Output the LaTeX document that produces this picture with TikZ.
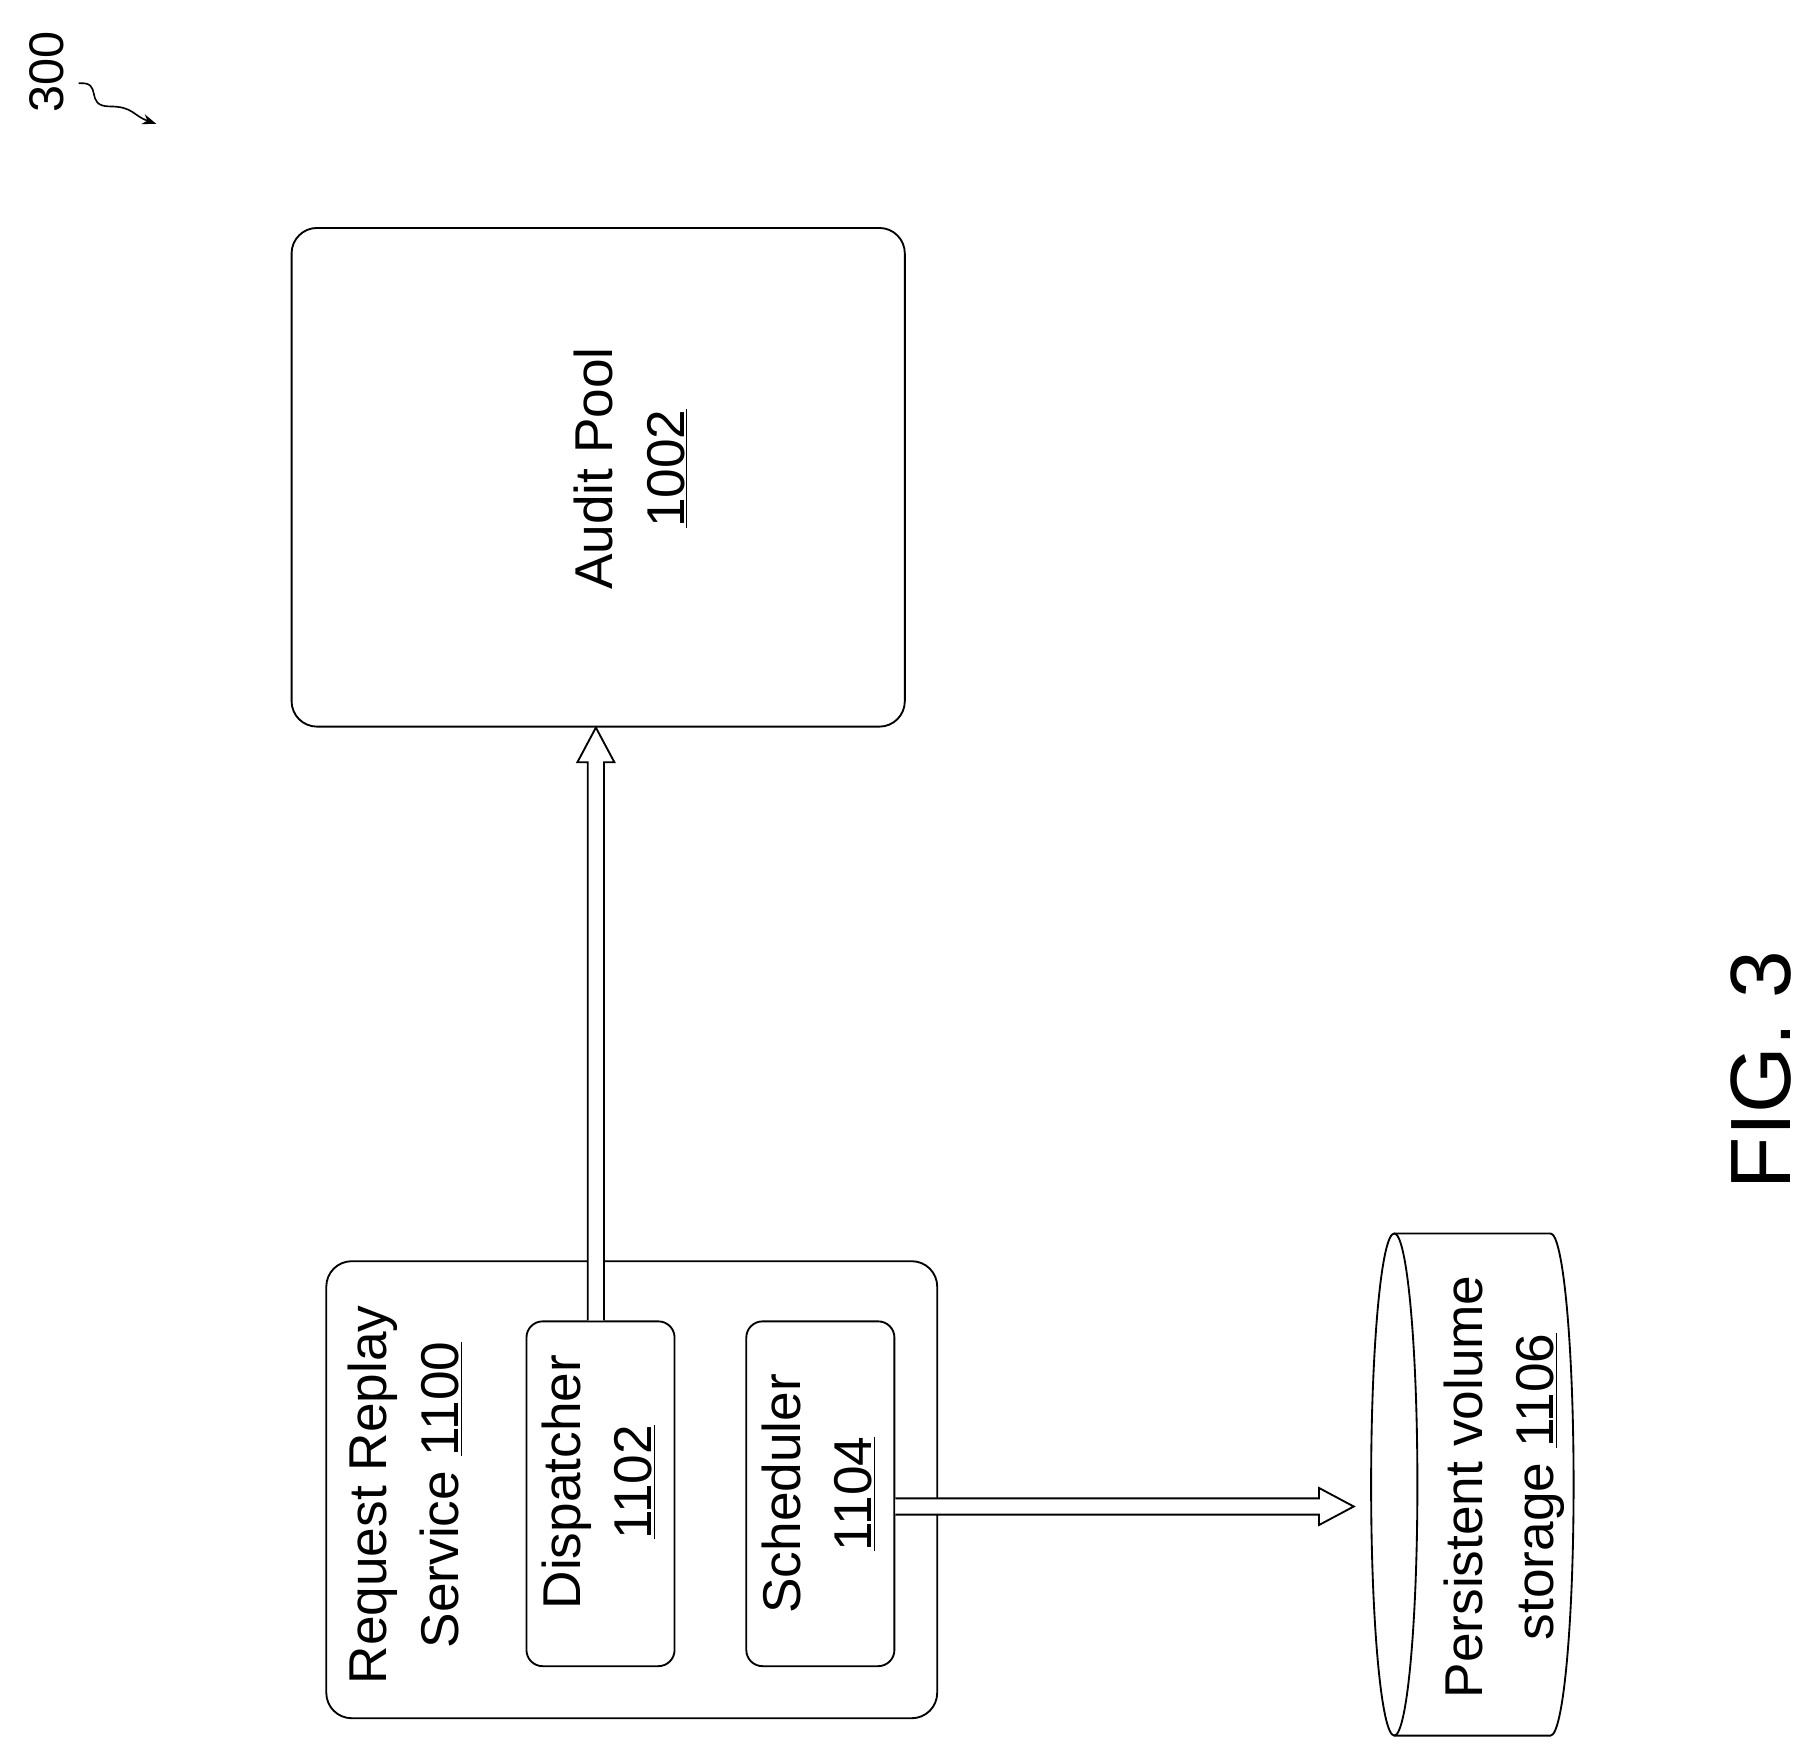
\documentclass[tikz,border=0pt]{standalone}
\usepackage{fontspec}
\setmainfont{Liberation Sans}
\usetikzlibrary{calc,arrows.meta}
\begin{document}
\begin{tikzpicture}[x=1pt,y=-1pt,
  box/.style={draw,line width=1.6pt,rounded corners=22pt},
  lbl/.style={rotate=90,align=center,font=\fontsize{46}{62}\selectfont},
  harrow/.style={draw,line width=1.6pt,fill=white}]
\useasboundingbox (0,0) rectangle (1560,1512);
\node[box,minimum width=530pt,minimum height=431pt] (audit) at (517,412.5) {};
\node[lbl] at (545,405) {Audit Pool\\\underline{1002}};
\node[box,minimum width=528pt,minimum height=395pt] (rrs) at (546,1287.5) {};
\node[lbl] at (350,1292) {Request Replay\\Service \underline{1100}};
\node[box,rounded corners=14pt,minimum width=128pt,minimum height=298pt] (disp) at (519,1291) {};
\node[lbl] at (517,1281) {Dispatcher\\\underline{1102}};
\node[box,rounded corners=14pt,minimum width=128pt,minimum height=298pt] (sched) at (709,1291) {};
\node[lbl] at (707,1291) {Scheduler\\\underline{1104}};
% cylinder
\coordinate (cl) at (1205,1283);
\draw[line width=1.6pt] (cl) ellipse [x radius=20, y radius=217];
\draw[line width=1.6pt] (1205,1066) -- (1340,1066) .. controls (1351,1066) and (1360,1163) .. (1360,1283) .. controls (1360,1403) and (1351,1500) .. (1340,1500) -- (1205,1500);
\node[lbl] (pv) at (1300,1285) {Persistent volume\\storage \underline{1106}};
% arrows
\path let \p1=(disp.north), \p2=(audit.south) in
  node[coordinate] (a1) at (\x1-4,\y1) {} node[coordinate] (a2) at (\x1-4,\y2) {};
\draw[harrow] ($(a1)+(-7,0)$) -- ($(a2)+(-7,30)$) -- ($(a2)+(-16,30)$) -- (a2) -- ($(a2)+(16,30)$) -- ($(a2)+(7,30)$) -- ($(a1)+(7,0)$);
\coordinate (b1) at (sched.east|-0,1302);
\coordinate (b2) at (1170,1302);
\draw[harrow] ($(b1)+(0,-7)$) -- ($(b2)+(-30,-7)$) -- ($(b2)+(-30,-16)$) -- (b2) -- ($(b2)+(-30,16)$) -- ($(b2)+(-30,7)$) -- ($(b1)+(0,7)$);
% figure label
\node[rotate=90,font=\fontsize{74}{80}\selectfont] (fig) at (1522,925) {FIG. 3};
\node[rotate=90,font=\fontsize{42}{46}\selectfont] (ref) at (40,62) {300};
\coordinate (rt) at (135,107);
\draw[line width=1.4pt,-{Stealth[length=12pt]}] (68,72) .. controls (90,70) and (72,92) .. (95,92) .. controls (115,92) and (115,100) .. (rt);
\end{tikzpicture}
\end{document}
